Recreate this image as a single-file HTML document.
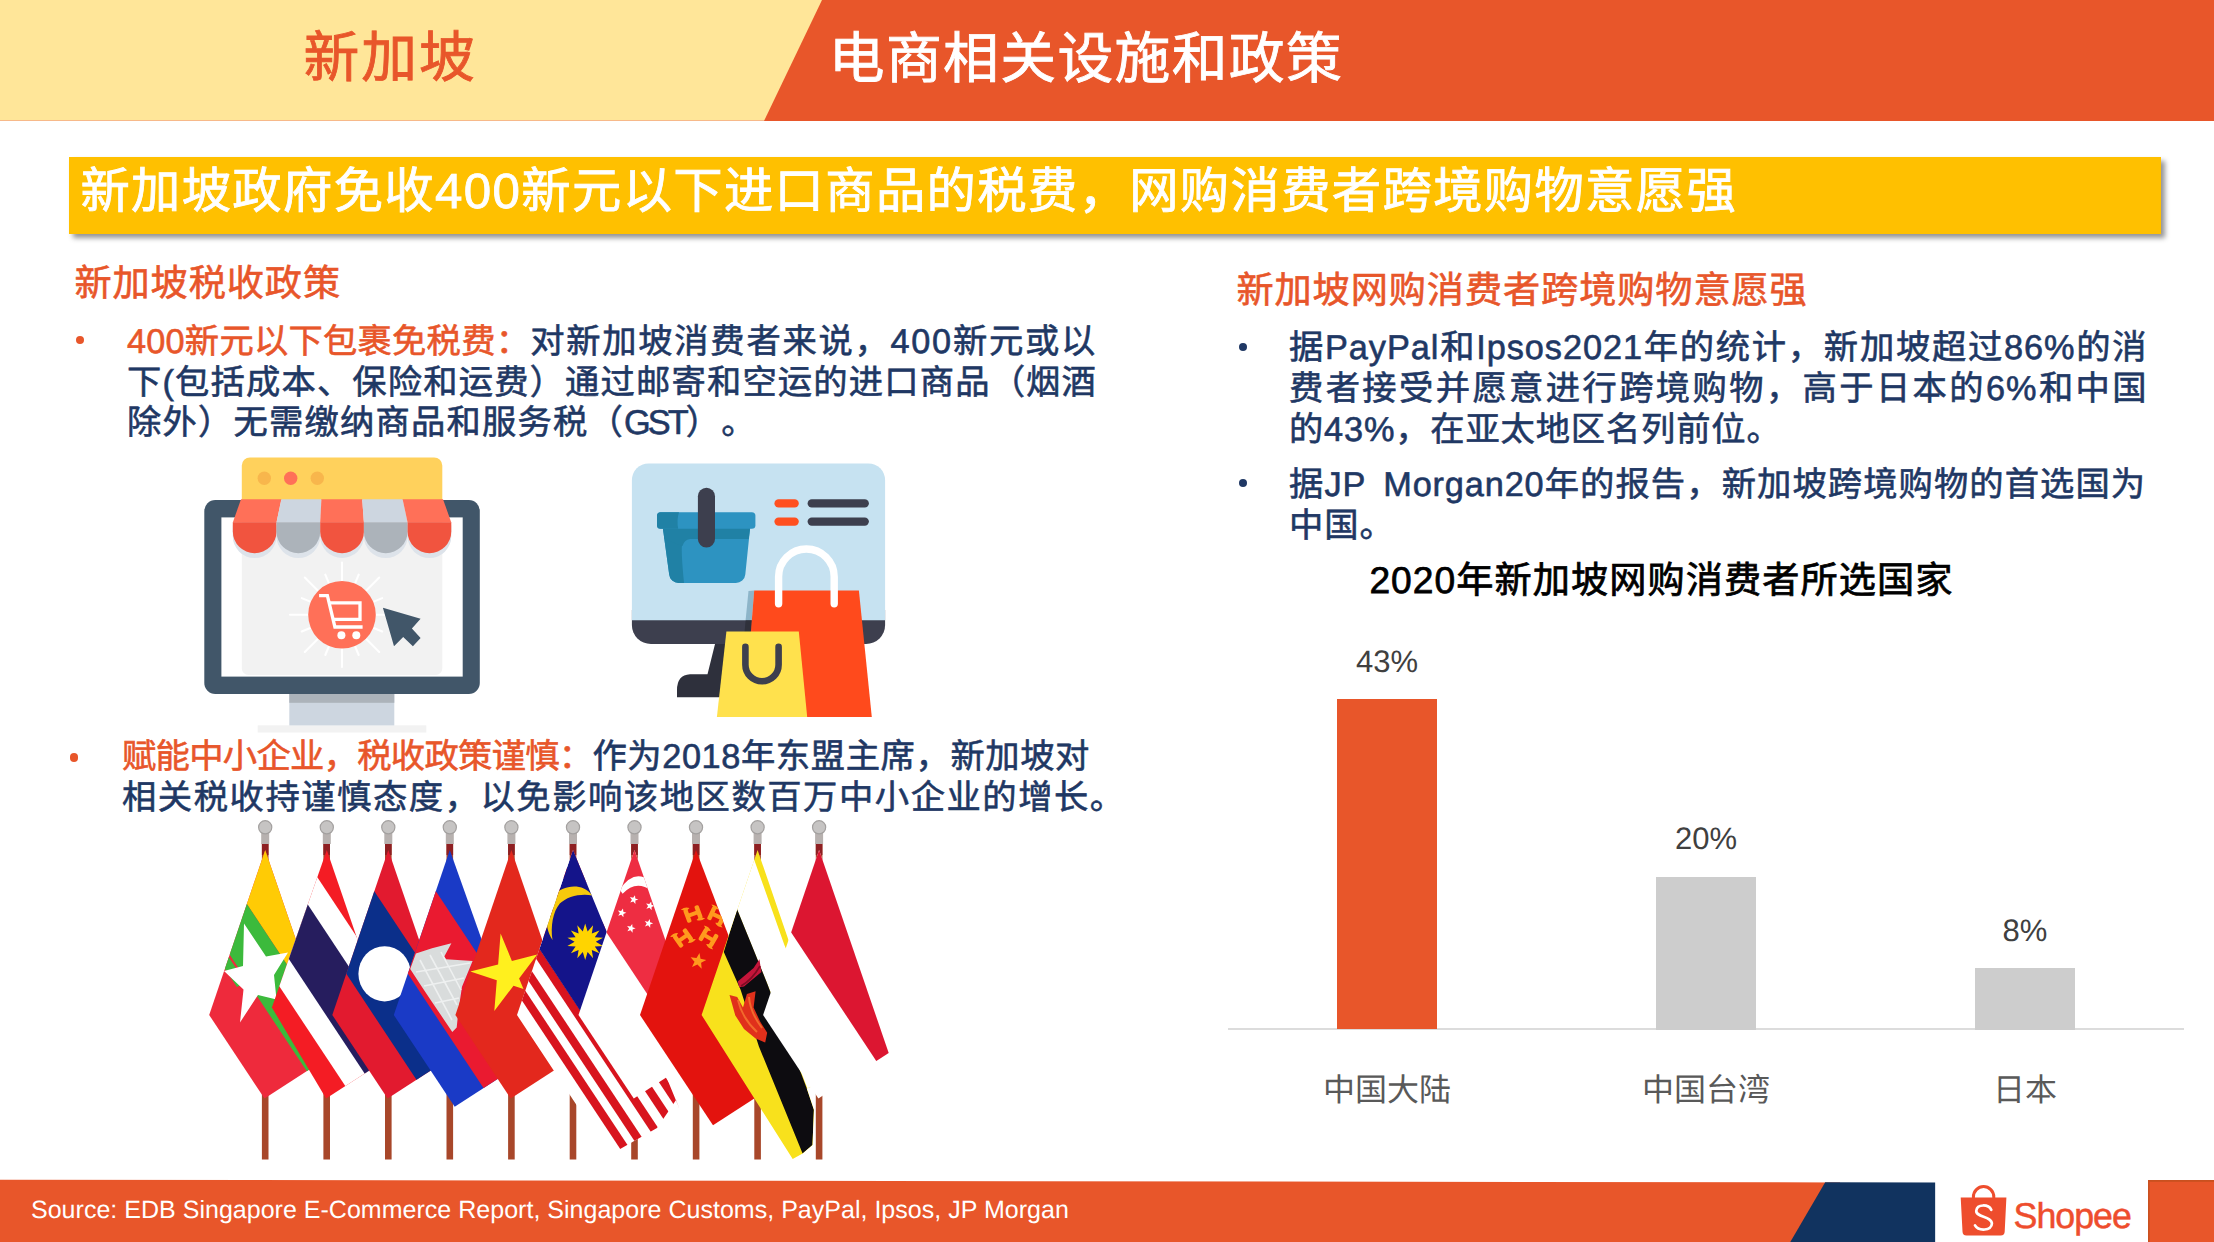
<!DOCTYPE html>
<html lang="zh-CN">
<head>
<meta charset="utf-8">
<title>新加坡 电商相关设施和政策</title>
<style>
html,body{margin:0;padding:0;}
body{width:2214px;height:1242px;position:relative;overflow:hidden;background:#fff;
  font-family:"Liberation Sans",sans-serif;color:#1f3864;text-rendering:geometricPrecision;text-spacing-trim:space-all;}
.abs{position:absolute;}
.t{position:absolute;white-space:nowrap;line-height:1;-webkit-text-stroke:.6px;}
.j{text-align:justify;text-align-last:justify;}
.or{color:#e8562a;}
/* header */
#hdL{left:0;top:0;width:830px;height:121px;background:#ffe699;border-bottom:1px solid #f7b98a;box-sizing:border-box;}
#hdR{left:0;top:0;width:2214px;height:121px;}
#h1{left:303.5px;top:30.2px;font-size:55.8px;letter-spacing:2px;color:#e8562a;-webkit-text-stroke:.85px;}
#h2{left:828.8px;top:30.7px;font-size:55.8px;letter-spacing:1.35px;color:#fff;-webkit-text-stroke:.85px;}
/* banner */
#bn{left:69px;top:156.5px;width:2092px;height:77.8px;background:#ffc000;box-shadow:4px 4px 5px rgba(0,0,0,.42);}
#bnt{left:80.4px;top:166.7px;font-size:49.3px;letter-spacing:1.36px;color:#fff;-webkit-text-stroke:.85px;}
/* body text */
.sec{font-size:37.2px;letter-spacing:.9px;color:#e8562a;}
.b{font-size:34.3px;letter-spacing:1.2px;color:#1f3864;}
.dot{position:absolute;width:8.2px;height:8.2px;border-radius:50%;background:#1f3864;}
.dot.or{background:#e8562a;}
/* chart */
.bar{position:absolute;}
.dl{position:absolute;font-size:31px;color:#404040;line-height:1;white-space:nowrap;text-align:center;width:200px;}
.cl{position:absolute;font-size:32px;color:#595959;line-height:1;white-space:nowrap;text-align:center;width:300px;}
/* footer */
#src{left:31px;top:1198.4px;font-size:25px;color:#fff;-webkit-text-stroke:0;letter-spacing:.02px;}
</style>
</head>
<body>

<!-- ===== header ===== -->
<div id="hdL" class="abs"></div>
<svg id="hdR" class="abs" width="2214" height="121" viewBox="0 0 2214 121"><polygon points="822,0 2214,0 2214,121 764,121" fill="#e8562a"/></svg>
<div id="h1" class="t">新加坡</div>
<div id="h2" class="t">电商相关设施和政策</div>

<!-- ===== banner ===== -->
<div id="bn" class="abs"></div>
<div id="bnt" class="t">新加坡政府免收400新元以下进口商品的税费，网购消费者跨境购物意愿强</div>

<!-- ===== left column ===== -->
<div class="t sec" style="left:74.4px;top:264.9px;">新加坡税收政策</div>

<div class="dot or" style="left:75.5px;top:335.6px;"></div>
<div class="t b j" style="left:127px;top:324.8px;width:970px;letter-spacing:1.7px;"><span class="or" style="letter-spacing:.2px;">400新元以下包裹免税费：</span>对新加坡消费者来说，400新元或以</div>
<div class="t b j" style="left:127px;top:365.8px;width:970px;letter-spacing:1.15px;">下(包括成本、保险和运费）通过邮寄和空运的进口商品（烟酒</div>
<div class="t b" style="left:127px;top:405.8px;">除外）无需缴纳商品和服务税（<span style="letter-spacing:-2.9px;">GST</span>）。</div>

<div class="dot or" style="left:69.9px;top:753.4px;"></div>
<div class="t b j" style="left:122px;top:739.7px;width:968px;letter-spacing:.6px;"><span class="or" style="letter-spacing:-.7px;">赋能中小企业，税收政策谨慎：</span>作为2018年东盟主席，新加坡对</div>
<div class="t b" style="left:122px;top:780.7px;letter-spacing:1.55px;">相关税收持谨慎态度，以免影响该地区数百万中小企业的增长。</div>

<!-- ===== graphics ===== -->
<svg class="abs" style="left:190px;top:445px;" width="310" height="295" viewBox="190 445 310 295">
  <!-- stand -->
  <rect x="257.7" y="725.3" width="168.6" height="7.2" fill="#f2f2f2"/>
  <rect x="289.3" y="693" width="105" height="32.4" fill="#cdd6e0"/>
  <rect x="289.3" y="693" width="105" height="9.8" fill="#acb3ba"/>
  <!-- monitor -->
  <rect x="204.3" y="500.1" width="275.5" height="193.8" rx="11" fill="#415669"/>
  <rect x="221.4" y="517.4" width="241.3" height="159.2" fill="#fff"/>
  <!-- browser window -->
  <path d="M241.8,499 H442.3 V668.5 a6.5,6.5 0 0 1 -6.5,6.5 H248.3 a6.5,6.5 0 0 1 -6.5,-6.5Z" fill="#f2f2f2"/>
  <path d="M241.8,500 V465.6 a8.2,8.2 0 0 1 8.2,-8.2 H434.1 a8.2,8.2 0 0 1 8.2,8.2 V500Z" fill="#ffd15c"/>
  <circle cx="264.3" cy="478.3" r="6.7" fill="#f8b64c"/>
  <circle cx="290.7" cy="478.3" r="6.7" fill="#ff7058"/>
  <circle cx="317.3" cy="478.3" r="6.7" fill="#f8b64c"/>
  <!-- sunburst rays -->
  <g stroke="#fff" stroke-width="2.1" stroke-linecap="round">
    <line x1="342" y1="562.5" x2="342" y2="667"/><line x1="290" y1="614.8" x2="394" y2="614.8"/>
    <line x1="304.8" y1="577.6" x2="379.2" y2="652"/><line x1="304.8" y1="652" x2="379.2" y2="577.6"/>
    <line x1="325.3" y1="574.6" x2="358.7" y2="655"/><line x1="358.7" y1="574.6" x2="325.3" y2="655"/>
    <line x1="301.8" y1="598.1" x2="382.2" y2="631.5"/><line x1="301.8" y1="631.5" x2="382.2" y2="598.1"/>
  </g>
  <!-- awning shadow -->
  <path d="M232.8,523 H451.3 V534 a21.85,21.85 0 0 1 -43.7,0 a21.85,21.85 0 0 1 -43.7,0 a21.85,21.85 0 0 1 -43.7,0 a21.85,21.85 0 0 1 -43.7,0 a21.85,21.85 0 0 1 -43.7,0Z" fill="#dde3ea" transform="translate(0,2.2)"/>
  <!-- awning top -->
  <polygon points="241,499.2 281.4,499.2 276.5,522.4 232.8,522.4" fill="#ff7058"/>
  <polygon points="281.4,499.2 321.4,499.2 320.2,522.4 276.5,522.4" fill="#cdd6e0"/>
  <polygon points="321.4,499.2 362.2,499.2 363.9,522.4 320.2,522.4" fill="#ff7058"/>
  <polygon points="362.2,499.2 402.6,499.2 407.6,522.4 363.9,522.4" fill="#cdd6e0"/>
  <polygon points="402.6,499.2 443,499.2 451.3,522.4 407.6,522.4" fill="#ff7058"/>
  <!-- scallops -->
  <path d="M232.8,522.2 h43.7 v9.2 a21.85,21.85 0 0 1 -43.7,0Z" fill="#f1543f"/>
  <path d="M276.5,522.2 h43.7 v9.2 a21.85,21.85 0 0 1 -43.7,0Z" fill="#acb3ba"/>
  <path d="M320.2,522.2 h43.7 v9.2 a21.85,21.85 0 0 1 -43.7,0Z" fill="#f1543f"/>
  <path d="M363.9,522.2 h43.7 v9.2 a21.85,21.85 0 0 1 -43.7,0Z" fill="#acb3ba"/>
  <path d="M407.6,522.2 h43.7 v9.2 a21.85,21.85 0 0 1 -43.7,0Z" fill="#f1543f"/>
  <!-- cart badge -->
  <circle cx="342" cy="614.8" r="33.8" fill="#ff7058"/>
  <g fill="none" stroke="#fff" stroke-width="3.3" stroke-linejoin="miter">
    <path d="M319.1,595.6 H327.4 L334.9,627 H362.6"/>
    <path d="M329.6,602.8 H360 V619.3 H333.4"/>
  </g>
  <circle cx="341.4" cy="635.2" r="4" fill="#fff"/>
  <circle cx="356.3" cy="635.2" r="4" fill="#fff"/>
  <!-- cursor -->
  <polygon points="382.9,607.7 420.6,618.8 411.9,628.4 420.6,638.1 412.9,646.3 403.2,637.1 394,646.3" fill="#415669"/>
</svg>

<svg class="abs" style="left:610px;top:445px;" width="310" height="295" viewBox="610 445 310 295">
  <!-- stand -->
  <path d="M716,640 L707.5,674.2 H690 Q677,675 677,690 V697.3 H760 V640Z" fill="#2e303c"/>
  <!-- monitor -->
  <path d="M631.9,610 H885.1 V625 a19,19 0 0 1 -19,19 H650.9 a19,19 0 0 1 -19,-19Z" fill="#3d3f4e"/>
  <path d="M631.9,480.1 a16.6,16.6 0 0 1 16.6,-16.6 H868.5 a16.6,16.6 0 0 1 16.6,16.6 V620.3 H631.9Z" fill="#c6e2f1"/>
  <!-- basket -->
  <path d="M662.7,527 H750.2 L745.3,574.5 a9.5,9.5 0 0 1 -9.4,8.6 H678.6 a9.5,9.5 0 0 1 -9.4,-8.6Z" fill="#2d93c1"/>
  <path d="M662.7,527 H686 L682,545 Q681,552 684,583.1 H678.6 a9.5,9.5 0 0 1 -9.4,-8.6Z" fill="#2081a5"/>
  <path d="M663.5,528 H750.2 L748.7,539 H690 Q684,540 682.5,546 L664.6,539Z" fill="#2081a5"/>
  <rect x="657" y="512.2" width="98.4" height="16.6" rx="3.6" fill="#2d93c1"/>
  <path d="M660.6,512.2 H679 Q676.5,520 678.2,528.8 H660.6 a3.6,3.6 0 0 1 -3.6,-3.6 v-9.4 a3.6,3.6 0 0 1 3.6,-3.6Z" fill="#2081a5"/>
  <rect x="697.9" y="487.8" width="17.1" height="59.8" rx="8.55" fill="#3d3f4e"/>
  <!-- text lines -->
  <rect x="774.4" y="499.2" width="24.4" height="8.4" rx="4.2" fill="#ff4f1f"/>
  <rect x="774.4" y="517.4" width="24.4" height="8.4" rx="4.2" fill="#ff4f1f"/>
  <rect x="807.6" y="499.2" width="61.3" height="8.4" rx="4.2" fill="#3d3f4e"/>
  <rect x="807.6" y="517.4" width="61.3" height="8.4" rx="4.2" fill="#3d3f4e"/>
  <!-- red bag shadow -->
  <polygon points="748.5,591.1 754.2,590.4 751.8,620.3 745.6,620.3" fill="#8db5c9"/>
  <polygon points="745.6,620.3 751.8,620.3 750.6,634 744.4,634" fill="#2f313b"/>
  <!-- red bag -->
  <polygon points="754.2,590.4 858.9,590.4 871.8,717 744,717" fill="#ff4a1c"/>
  <path d="M778.6,603.7 V576.8 a27.8,27.8 0 0 1 55.6,0 V603.7" fill="none" stroke="#fff" stroke-width="7.4" stroke-linecap="round"/>
  <!-- yellow bag -->
  <polygon points="726.4,631.5 798.8,631.5 807.2,717 716.9,717" fill="#ffe14d"/>
  <path d="M745.4,646.9 V664.7 a16.6,16.6 0 0 0 33.2,0 V646.9" fill="none" stroke="#3d3f4e" stroke-width="6.6" stroke-linecap="round"/>
</svg>

<svg class="abs" style="left:200px;top:815px;" width="720" height="350" viewBox="200 815 720 350">
<defs>
<clipPath id="fc0"><polygon points="265.2,850 209.2,1015 264.5,1098.5 334.8,1053"/></clipPath>
<clipPath id="fc1"><polygon points="326.8,850 271.9,1007.5 326.1,1098.5 396.4,1053"/></clipPath>
<clipPath id="fc2"><polygon points="388.3,850 332.3,1015 387.6,1098.5 457.9,1053"/></clipPath>
<clipPath id="fc3"><polygon points="449.8,850 393.8,1015 454.7,1106.8 525,1061.3"/></clipPath>
<clipPath id="fc4"><polygon points="511.4,850 455.4,1015 510.7,1098.5 581,1053"/></clipPath>
<clipPath id="fc5"><polygon points="573,850 517,1015 609.6,1154.9 657,1128.1 668,1112 676,1100 679.5,1108.9"/></clipPath>
<clipPath id="fc6"><polygon points="634.5,850 578.5,1015 633.8,1098.5 704.1,1053"/></clipPath>
<clipPath id="fc7"><polygon points="696,850 640,1015 713,1125.2 783.3,1079.7"/></clipPath>
<clipPath id="fc8"><polygon points="757.6,850 701.6,1015 792.7,1159.1 802.6,1153.5 812.5,1145 813.9,1109.8 806.8,1088.6 840,1075 827.2,1053"/></clipPath>
<clipPath id="fc9"><polygon points="819.1,850 763.1,1015 818.4,1098.5 888.7,1053"/></clipPath>
</defs>
<rect x="261.9" y="843" width="6.6" height="316.5" fill="#a8472a"/>
<rect x="261.9" y="843" width="6.6" height="12" fill="#8e1f22"/>
<rect x="261.2" y="831" width="8" height="13" fill="#b7b1af"/>
<circle cx="265.2" cy="827.3" r="6.6" fill="#c6c4c3" stroke="#a3a09f" stroke-width="1.2"/>
<rect x="323.4" y="843" width="6.6" height="316.5" fill="#a8472a"/>
<rect x="323.4" y="843" width="6.6" height="12" fill="#8e1f22"/>
<rect x="322.8" y="831" width="8" height="13" fill="#b7b1af"/>
<circle cx="326.8" cy="827.3" r="6.6" fill="#c6c4c3" stroke="#a3a09f" stroke-width="1.2"/>
<rect x="385" y="843" width="6.6" height="316.5" fill="#a8472a"/>
<rect x="385" y="843" width="6.6" height="12" fill="#8e1f22"/>
<rect x="384.3" y="831" width="8" height="13" fill="#b7b1af"/>
<circle cx="388.3" cy="827.3" r="6.6" fill="#c6c4c3" stroke="#a3a09f" stroke-width="1.2"/>
<rect x="446.5" y="843" width="6.6" height="316.5" fill="#a8472a"/>
<rect x="446.5" y="843" width="6.6" height="12" fill="#8e1f22"/>
<rect x="445.8" y="831" width="8" height="13" fill="#b7b1af"/>
<circle cx="449.8" cy="827.3" r="6.6" fill="#c6c4c3" stroke="#a3a09f" stroke-width="1.2"/>
<rect x="508.1" y="843" width="6.6" height="316.5" fill="#a8472a"/>
<rect x="508.1" y="843" width="6.6" height="12" fill="#8e1f22"/>
<rect x="507.4" y="831" width="8" height="13" fill="#b7b1af"/>
<circle cx="511.4" cy="827.3" r="6.6" fill="#c6c4c3" stroke="#a3a09f" stroke-width="1.2"/>
<rect x="569.7" y="843" width="6.6" height="316.5" fill="#a8472a"/>
<rect x="569.7" y="843" width="6.6" height="12" fill="#8e1f22"/>
<rect x="569" y="831" width="8" height="13" fill="#b7b1af"/>
<circle cx="573" cy="827.3" r="6.6" fill="#c6c4c3" stroke="#a3a09f" stroke-width="1.2"/>
<rect x="631.2" y="843" width="6.6" height="316.5" fill="#a8472a"/>
<rect x="631.2" y="843" width="6.6" height="12" fill="#8e1f22"/>
<rect x="630.5" y="831" width="8" height="13" fill="#b7b1af"/>
<circle cx="634.5" cy="827.3" r="6.6" fill="#c6c4c3" stroke="#a3a09f" stroke-width="1.2"/>
<rect x="692.8" y="843" width="6.6" height="316.5" fill="#a8472a"/>
<rect x="692.8" y="843" width="6.6" height="12" fill="#8e1f22"/>
<rect x="692" y="831" width="8" height="13" fill="#b7b1af"/>
<circle cx="696" cy="827.3" r="6.6" fill="#c6c4c3" stroke="#a3a09f" stroke-width="1.2"/>
<rect x="754.3" y="843" width="6.6" height="316.5" fill="#a8472a"/>
<rect x="754.3" y="843" width="6.6" height="12" fill="#8e1f22"/>
<rect x="753.6" y="831" width="8" height="13" fill="#b7b1af"/>
<circle cx="757.6" cy="827.3" r="6.6" fill="#c6c4c3" stroke="#a3a09f" stroke-width="1.2"/>
<rect x="815.8" y="843" width="6.6" height="316.5" fill="#a8472a"/>
<rect x="815.8" y="843" width="6.6" height="12" fill="#8e1f22"/>
<rect x="815.1" y="831" width="8" height="13" fill="#b7b1af"/>
<circle cx="819.1" cy="827.3" r="6.6" fill="#c6c4c3" stroke="#a3a09f" stroke-width="1.2"/>
<g clip-path="url(#fc0)">
<polygon points="185.2,840 495.2,840 495.2,1170 185.2,1170" fill="#ee2a3c"/>
<polygon points="265.2,837.6 450.2,1116.9 429.1,1179.1 244.1,899.8" fill="#ffcb05"/>
<polygon points="244.1,899.8 429.1,1179.1 411.9,1229.9 226.9,950.6" fill="#3cba3c"/>
<polygon points="227.1,954.7 245.4,982.3 237,987.1 223.2,966.3" fill="#3cba3c"/>
<polygon points="244,923.5 266,956.5 288,952.5 274,975 276.5,999.5 258,995 240,1022.5 243.5,989.5 224,971 243,966" fill="#fff"/>
</g>
<g clip-path="url(#fc1)">
<polygon points="246.8,840 556.8,840 556.8,1170 246.8,1170" fill="#f41c24"/>
<polygon points="314.7,873.3 499.6,1152.6 462.3,1262.6 277.3,983.3" fill="#fff"/>
<polygon points="305.3,900.8 490.3,1180.1 471.6,1235.1 286.7,955.8" fill="#261d5e"/>
</g>
<g clip-path="url(#fc2)">
<polygon points="308.3,840 618.3,840 618.3,1170 308.3,1170" fill="#e21a2f"/>
<polygon points="371.5,887.1 556.5,1166.4 528.5,1248.9 343.5,969.6" fill="#0b2f8a"/>
<ellipse cx="384.6" cy="973.8" rx="26.2" ry="27.6" fill="#fff"/>
</g>
<g clip-path="url(#fc3)">
<polygon points="369.8,840 679.8,840 679.8,1170 369.8,1170" fill="#1a3ac6"/>
<polygon points="433.1,887.1 618.1,1166.4 590.1,1248.9 405.1,969.6" fill="#ea1a30"/>
<polygon points="410.2,969 415.9,953.5 432,948.2 451.4,943.3 444.3,956.6 446.1,959.2 472.6,961 462,986.7 458.5,1010 456.7,1027.4 452.3,1031.9 432,1002 420,984" fill="#d9dcdc"/>
<path d="M420,960 L452,1020 M430,955 L457,1005 M441,952 L461,990 M416,972 L470,963 M424,986 L464,978 M435,1003 L459,998" stroke="#eef0f0" stroke-width="1.6" fill="none"/>
</g>
<g clip-path="url(#fc4)">
<polygon points="431.4,840 741.4,840 741.4,1170 431.4,1170" fill="#e3281d"/>
<polygon points="500.6,933.4 511.9,960.9 537.2,954.5 519.1,978.4 523.5,989 513.5,985.7 494.3,1011.1 496.8,980.2 470.3,971.4 498.1,964.4" fill="#fff01e"/>
</g>
<g clip-path="url(#fc5)">
<polygon points="493,840 803,840 803,1170 493,1170" fill="#fff"/>
<polygon points="522.5,986.4 707.5,1265.7 704.1,1275.6 519.1,996.3" fill="#d8141e"/>
<polygon points="529.1,966.9 714.1,1246.2 710.7,1256.1 525.8,976.8" fill="#d8141e"/>
<polygon points="536.7,944.5 721.7,1223.8 718.3,1233.7 533.3,954.4" fill="#d8141e"/>
<polygon points="543.9,923.4 728.8,1202.7 725.5,1212.6 540.5,933.3" fill="#d8141e"/>
<polygon points="550.6,903.6 735.6,1182.9 732.2,1192.8 547.2,913.5" fill="#d8141e"/>
<polygon points="557.3,883.8 742.3,1163.1 738.9,1173 553.9,893.7" fill="#d8141e"/>
<polygon points="564,864 749,1143.3 745.6,1153.2 560.7,873.9" fill="#d8141e"/>
<polygon points="571.3,842.5 756.3,1121.8 752.4,1133.4 567.4,854.1" fill="#d8141e"/>
<polygon points="574.6,845 539.4,949 581.3,1012.4 618.3,903.5" fill="#14148a"/>
<path d="M552.5,940 C543.5,926.7 545.3,905.2 554.1,894.6 C561.2,886.9 580.9,880.6 592.4,895.4 C580.9,893 566.8,896.4 559.8,903.5 C552.8,911.8 550.5,926.7 552.5,940Z" fill="#f6c90c"/>
<polygon points="585.2,923.5 587.6,931.5 593.1,925.3 591.8,933.5 599.5,930.4 594.8,937.2 603,937.7 595.8,941.8 603,945.9 594.8,946.4 599.5,953.2 591.8,950.1 593.1,958.3 587.6,952.1 585.2,960.1 582.8,952.1 577.3,958.3 578.6,950.1 570.9,953.2 575.6,946.4 567.4,945.9 574.6,941.8 567.4,937.7 575.6,937.2 570.9,930.4 578.6,933.5 577.3,925.3 582.8,931.5" fill="#ffd400"/>
</g>
<g clip-path="url(#fc6)">
<polygon points="554.5,840 864.5,840 864.5,1170 554.5,1170" fill="#fff"/>
<polygon points="634.5,837.6 819.5,1116.9 788.7,1207.6 603.7,928.3" fill="#ee2d42"/>
<path d="M619.6,889.5 Q634.5,868.4 649.2,880.6 L651.6,890.8 Q635.9,879.4 622.6,893.8Z" fill="#fff"/>
<polygon points="635,895.2 635.3,898.4 638.4,899.4 635.4,900.6 635.4,903.9 633.3,901.4 630.2,902.5 631.9,899.7 629.9,897.1 633.1,897.8" fill="#fff"/>
<polygon points="651.2,901.5 651.5,904.7 654.6,905.7 651.6,906.9 651.6,910.2 649.5,907.7 646.4,908.8 648.1,906 646.1,903.4 649.3,904.1" fill="#fff"/>
<polygon points="623,908.5 623.3,911.7 626.4,912.7 623.4,913.9 623.4,917.2 621.3,914.7 618.2,915.8 619.9,913 617.9,910.4 621.1,911.1" fill="#fff"/>
<polygon points="649.8,919.1 650.1,922.3 653.2,923.3 650.2,924.5 650.2,927.8 648.1,925.3 645,926.4 646.7,923.6 644.7,921 647.9,921.7" fill="#fff"/>
<polygon points="632.2,924 632.5,927.2 635.6,928.2 632.6,929.4 632.6,932.7 630.5,930.2 627.4,931.3 629.1,928.5 627.1,925.9 630.3,926.6" fill="#fff"/>
</g>
<g clip-path="url(#fc7)">
<polygon points="616,840 926,840 926,1170 616,1170" fill="#e3130e"/>
<g transform="translate(693,914) rotate(-20) scale(1.25)" fill="#ff9a1e"><rect x="-6.5" y="-5.5" width="3.6" height="11" rx="1.2"/><rect x="2.9" y="-5.5" width="3.6" height="11" rx="1.2"/><rect x="-5" y="-1.6" width="10" height="3.2"/><path d="M-8,-6.5 Q-4,-8 -1,-5.5 L-4,-4Z M8,6.5 Q4,8 1,5.5 L4,4Z"/></g>
<g transform="translate(717,916) rotate(25) scale(1.25)" fill="#ff9a1e"><rect x="-6.5" y="-5.5" width="3.6" height="11" rx="1.2"/><rect x="2.9" y="-5.5" width="3.6" height="11" rx="1.2"/><rect x="-5" y="-1.6" width="10" height="3.2"/><path d="M-8,-6.5 Q-4,-8 -1,-5.5 L-4,-4Z M8,6.5 Q4,8 1,5.5 L4,4Z"/></g>
<g transform="translate(683,938) rotate(-35) scale(1.25)" fill="#ff9a1e"><rect x="-6.5" y="-5.5" width="3.6" height="11" rx="1.2"/><rect x="2.9" y="-5.5" width="3.6" height="11" rx="1.2"/><rect x="-5" y="-1.6" width="10" height="3.2"/><path d="M-8,-6.5 Q-4,-8 -1,-5.5 L-4,-4Z M8,6.5 Q4,8 1,5.5 L4,4Z"/></g>
<g transform="translate(708.5,937.5) rotate(30) scale(1.25)" fill="#ff9a1e"><rect x="-6.5" y="-5.5" width="3.6" height="11" rx="1.2"/><rect x="2.9" y="-5.5" width="3.6" height="11" rx="1.2"/><rect x="-5" y="-1.6" width="10" height="3.2"/><path d="M-8,-6.5 Q-4,-8 -1,-5.5 L-4,-4Z M8,6.5 Q4,8 1,5.5 L4,4Z"/></g>
<polygon points="699.5,952.9 700.5,958.8 706.3,960 701.1,962.8 701.7,968.7 697.4,964.6 692,967 694.5,961.7 690.6,957.3 696.5,958.1" fill="#ff9a1e"/>
</g>
<g clip-path="url(#fc8)">
<polygon points="677.6,840 987.6,840 987.6,1170 677.6,1170" fill="#f8e11c"/>
<polygon points="755.2,853.5 737,909 767.4,984.1 815.1,1108.6 850,1100 784.3,944.7 753.3,857.3" fill="#fff"/>
<polygon points="737,909 753.3,948.9 767.4,984.1 806.8,1088.6 813.9,1109.8 812.5,1145 802.6,1153.5 758.9,1046.4 740.6,989.7 723.8,952" fill="#0d0c10"/>
<polygon points="737.7,981.5 753.6,968 759.4,959.3 761.4,971.9 744,986.4 739.2,987.3" fill="#c4153a"/>
<polygon points="729.5,995.1 737.2,997 743,1007.6 746.9,994.1 755.6,991.2 753.6,1007.6 760.4,1022.1 767.2,1032.8 765.2,1042.4 755.6,1038.6 744,1028.9 735.3,1015.4" fill="#e0301b"/>
<path d="M738,1000 Q742,1018 757,1032 M749,997 Q750,1012 762,1028" stroke="#f26a2c" stroke-width="2" fill="none"/>
<path d="M741,986 Q752,980 760,966" stroke="#7d0c22" stroke-width="1.6" fill="none"/>
</g>
<g clip-path="url(#fc9)">
<polygon points="739.1,840 1049.1,840 1049.1,1170 739.1,1170" fill="#fff"/>
<polygon points="819.2,837.6 1004.2,1116.9 973.4,1207.6 788.4,928.3" fill="#dc1631"/>
</g>
</svg>

<!-- ===== right column ===== -->
<div class="t sec" style="left:1236.4px;top:272.1px;">新加坡网购消费者跨境购物意愿强</div>

<div class="dot" style="left:1238.5px;top:343px;"></div>
<div class="t b j" style="left:1289px;top:330.9px;letter-spacing:.95px;width:858.5px;">据PayPal和Ipsos2021年的统计，新加坡超过86%的消</div>
<div class="t b j" style="left:1289px;top:371.9px;letter-spacing:.95px;width:858.5px;">费者接受并愿意进行跨境购物，高于日本的6%和中国</div>
<div class="t b" style="left:1289px;top:412.9px;letter-spacing:.82px;">的43%，在亚太地区名列前位。</div>

<div class="dot" style="left:1238.5px;top:478.6px;"></div>
<div class="t b j" style="left:1289px;top:467.9px;letter-spacing:.85px;width:857px;">据JP<span style="letter-spacing:-1.2px;">&nbsp; </span>Morgan20年的报告，新加坡跨境购物的首选国为</div>
<div class="t b" style="left:1289px;top:508.9px;letter-spacing:.95px;">中国。</div>

<!-- ===== chart ===== -->
<div class="t" style="left:1369.4px;top:561.5px;font-size:37.2px;letter-spacing:1.05px;color:#000;-webkit-text-stroke:.75px;">2020年新加坡网购消费者所选国家</div>

<div class="abs" style="left:1228.4px;top:1028.4px;width:955.6px;height:1.7px;background:#dcdcdc;"></div>
<div class="bar" style="left:1337px;top:699.3px;width:100px;height:330.2px;background:#e8562a;"></div>
<div class="bar" style="left:1656px;top:876.5px;width:100px;height:153px;background:#cdcdcd;"></div>
<div class="bar" style="left:1974.7px;top:968px;width:100px;height:61.5px;background:#cdcdcd;"></div>

<div class="dl" style="left:1287px;top:646px;">43%</div>
<div class="dl" style="left:1606px;top:823px;">20%</div>
<div class="dl" style="left:1925px;top:915px;">8%</div>

<div class="cl" style="left:1237px;top:1074px;">中国大陆</div>
<div class="cl" style="left:1556px;top:1074px;">中国台湾</div>
<div class="cl" style="left:1875px;top:1074px;">日本</div>

<!-- ===== footer ===== -->
<svg class="abs" style="left:0;top:1175px;" width="1840" height="67" viewBox="0 1175 1840 67"><polygon points="0,1179.7 1840,1182.4 1840,1242 0,1242" fill="#e8562a"/></svg>
<svg class="abs" style="left:1780px;top:1178px;" width="434" height="64" viewBox="1780 1178 434 64">
  <polygon points="1825.2,1182.3 1935.4,1182.5 1935.4,1242 1790.3,1242" fill="#11335f"/>
  <rect x="1935.4" y="1178" width="213" height="64" fill="#fff"/>
  <rect x="2148" y="1180" width="66" height="62" fill="#c9501f"/>
  <rect x="2149.6" y="1181.8" width="65" height="61" fill="#e8562a"/>
</svg>
<svg class="abs" style="left:1950px;top:1180px;" width="70" height="62" viewBox="1950 1180 70 62">
  <path d="M1960.7,1197.6 H2006.4 L2004.7,1231.6 a4,4 0 0 1 -4,3.9 H1966.5 a4,4 0 0 1 -4,-3.9Z" fill="#ee4d2d"/>
  <path d="M1973.4,1198.5 V1197 a10.2,10.4 0 0 1 20.4,0 V1198.5" fill="none" stroke="#ee4d2d" stroke-width="3"/>
  <path d="M1991.3,1209.8 C1988.6,1204.2 1977.2,1203.6 1976.3,1210.6 C1975.4,1217.4 1991.9,1216 1991.9,1223.6 C1991.9,1231 1978.4,1231.4 1975,1225.4" fill="none" stroke="#fff" stroke-width="2.7" stroke-linecap="round"/>
</svg>
<div class="t" style="left:2013.6px;top:1198.8px;font-size:35.75px;letter-spacing:-1px;color:#ee4d2d;-webkit-text-stroke:.5px;">Shopee</div>

<div id="src" class="t">Source: EDB Singapore E-Commerce Report, Singapore Customs, PayPal, Ipsos, JP Morgan</div>

</body>
</html>
